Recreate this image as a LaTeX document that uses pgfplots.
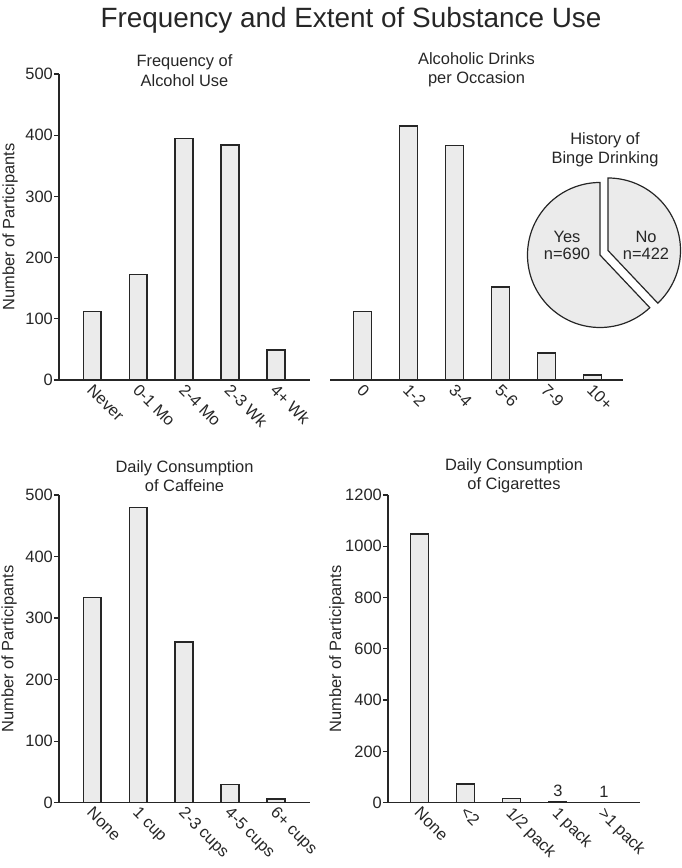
\documentclass[border=0pt]{standalone}
\usepackage{pgfplots}
\pgfplotsset{compat=1.18}
\usepackage{fontspec}
\setmainfont{Liberation Sans}
\definecolor{barfill}{HTML}{EBEBEB}
\definecolor{ink}{HTML}{262626}
\newcommand{\fs}{\fontsize{16.5}{19.5}\selectfont}
\pgfplotsset{
 myax/.style={
  scale only axis,
  axis x line=bottom, axis y line=left,
  axis line style={-, ink, line width=1.3bp},
  ymin=0,
  xtick=data,
  xtick style={draw=none},
  ytick style={ink, line width=1.3bp},
  tick align=outside,
  major tick length=5bp,
  tick label style={font=\fs, text=ink},
  /pgf/number format/assume math mode=true,
  yticklabel style={/pgf/number format/1000 sep={}, inner sep=1bp},
  xticklabel style={rotate=-45, anchor=north west, inner sep=0pt, xshift=0bp, yshift=3bp},
  label style={font=\fs, text=ink},
  ylabel style={anchor=center},
  title style={font=\fs, text=ink, align=center, at={(0.5,1)}, anchor=center},
  ybar, bar width=0.39,
  clip=false,
 },
 mybar/.style={draw=ink, fill=barfill, line width=1.2bp},
}
\begin{document}
\begin{tikzpicture}
\path[use as bounding box] (0,0) rectangle (682bp,868bp);
\node[font=\fontsize{28}{32}\selectfont, text=ink] at (351bp,848bp) {Frequency and Extent of Substance Use};

% top-left
\begin{axis}[myax, at={(59bp,488bp)}, anchor=south west, width=251bp, height=306bp,
  xmin=-0.72, xmax=4.74, ymax=500, ytick={0,100,...,500},
  xticklabels={Never,0-1 Mo,2-4 Mo,2-3 Wk,4+ Wk},
  ylabel={Number of Participants},
  ylabel style={at={(axis description cs:-0.195,0.5)}},
  title={Frequency of\\Alcohol Use}, title style={yshift=-2.5bp}]
\addplot[mybar] coordinates {(0,112) (1,173) (2,394) (3,384) (4,49)};
\end{axis}

% top-right
\begin{axis}[myax, at={(330bp,488bp)}, anchor=south west, width=293bp, height=306bp,
  axis y line=none, ytick=\empty,
  xmin=-0.70, xmax=5.67, ymax=500,
  xticklabels={0,1-2,3-4,5-6,7-9,10+},
  title={Alcoholic Drinks\\per Occasion}, title style={yshift=-2bp}]
\addplot[mybar] coordinates {(0,112) (1,415) (2,383) (3,152) (4,44) (5,8)};
\end{axis}

% pie: History of Binge Drinking
\pgfmathsetmacro{\yesn}{690}
\pgfmathsetmacro{\non}{422}
\pgfmathsetmacro{\yesang}{360*(\yesn/(\yesn+\non))}
\pgfmathsetmacro{\yesend}{90+\yesang}
\draw[ink, fill=barfill, line width=1.2bp] (600bp,613bp) -- ++(90:72.5bp) arc[start angle=90, end angle=\yesend, radius=72.5bp] -- cycle;
\draw[ink, fill=barfill, line width=1.2bp, shift={(8bp,4.5bp)}] (600bp,613bp) -- ++(\yesend:72.5bp) arc[start angle=\yesend, end angle=450, radius=72.5bp] -- cycle;
\node[font=\fs, text=ink, align=center] at (605bp,718.5bp) {History of\\Binge Drinking};
\node[font=\fontsize{16.5}{17}\selectfont, text=ink, align=center] at (567bp,623bp) {Yes\\n=690};
\node[font=\fontsize{16.5}{17}\selectfont, text=ink, align=center] at (646bp,623bp) {No\\n=422};

% bottom-left
\begin{axis}[myax, at={(59bp,65.3bp)}, anchor=south west, width=251bp, height=307.7bp,
  xmin=-0.72, xmax=4.74, ymax=500, ytick={0,100,...,500},
  xticklabels={None,1 cup,2-3 cups,4-5 cups,6+ cups},
  ylabel={Number of Participants},
  ylabel style={at={(axis description cs:-0.199,0.5)}},
  title={Daily Consumption\\of Caffeine}, title style={yshift=13bp}]
\addplot[mybar] coordinates {(0,334) (1,480) (2,261) (3,30) (4,6)};
\end{axis}

% bottom-right
\begin{axis}[myax, at={(388bp,65.3bp)}, anchor=south west, width=252bp, height=307.7bp,
  xmin=-0.68, xmax=4.78, ymax=1200, ytick={0,200,...,1200},
  xticklabels={None,<2,1/2 pack,1 pack,>1 pack},
  ylabel={Number of Participants},
  ylabel style={at={(axis description cs:-0.203,0.5)}},
  title={Daily Consumption\\of Cigarettes}, title style={yshift=13bp}]
\addplot[mybar] coordinates {(0,1048) (1,73) (2,16) (3,3) (4,1)};
\node[font=\fs, text=ink, anchor=south, inner sep=0pt] at (axis cs:3,3) [yshift=5bp] {3};
\node[font=\fs, text=ink, anchor=south, inner sep=0pt] at (axis cs:4,1) [yshift=5bp] {1};
\end{axis}
\end{tikzpicture}
\end{document}
